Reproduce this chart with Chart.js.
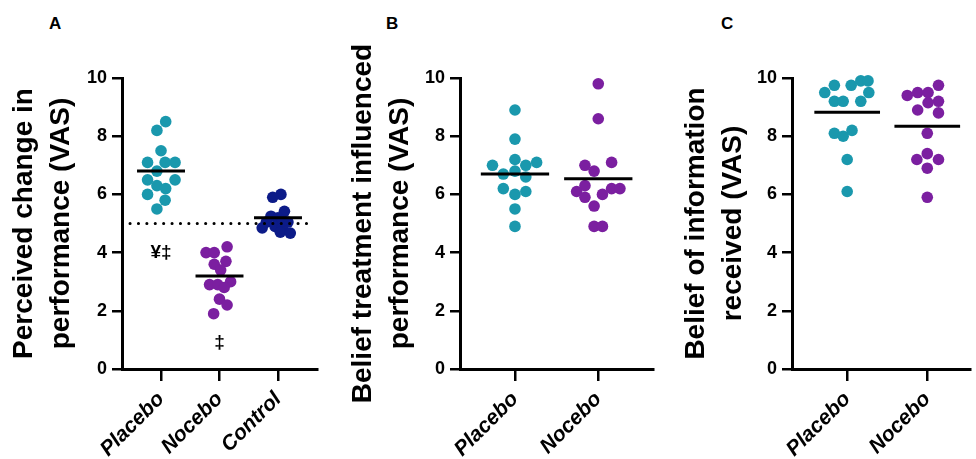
<!DOCTYPE html>
<html>
<head>
<meta charset="utf-8">
<script src="https://cdn.jsdelivr.net/npm/chart.js@4.4.0/dist/chart.umd.min.js"></script>
<style>
  html, body { margin: 0; padding: 0; background: #fff; }
  body { width: 976px; height: 459px; position: relative; overflow: hidden; font-family: 'Liberation Sans', Arial, sans-serif; }
  .panel { position: absolute; top: 0; height: 459px; }
  .tag { position: absolute; top: 14px; font-weight: bold; font-size: 17px; color: #000; }
</style>
</head>
<body>
<div class="tag" style="left:49px">A</div>
<div class="tag" style="left:386px">B</div>
<div class="tag" style="left:721px">C</div>
<div class="panel" style="left:0px;width:330px"><canvas id="chartA" width="330" height="459"></canvas></div>
<div class="panel" style="left:340px;width:325px"><canvas id="chartB" width="325" height="459"></canvas></div>
<div class="panel" style="left:670px;width:306px"><canvas id="chartC" width="306" height="459"></canvas></div>
<script>
// colours
const teal = '#1a98ad';
const purple = '#7b1fa0';
const navy = '#0c1b88';

// ---- panel A: perceived change in performance ----
const aCategories = ['Placebo', 'Nocebo', 'Control'];
const aPlacebo = [8.5, 8.2, 7.5, 7.1, 7.1, 7.1, 6.8, 6.5, 6.5, 6.3, 6.2, 6.0, 5.8, 5.5];
const aPlaceboJitter = [0.08, -0.07, 0, -0.23, 0.07, 0.24, -0.07, -0.23, 0.24, -0.07, 0.08, -0.23, 0.07, -0.07];
const aNocebo = [4.2, 4.0, 4.0, 3.7, 3.6, 3.4, 2.9, 2.9, 3.0, 2.8, 2.4, 2.2, 1.9];
const aNoceboJitter = [0.13, -0.23, -0.09, 0.11, -0.09, 0.02, -0.17, -0.03, 0.19, 0.08, 0, 0.13, -0.1];
const aControl = [6.0, 5.9, 5.42, 5.25, 5.2, 5.05, 5.05, 4.9, 4.85, 4.9, 4.7, 4.67, 5.1];
const aControlJitter = [0.05, -0.09, 0.11, -0.12, 0, -0.2, 0.17, -0.05, -0.27, 0.08, 0.04, 0.21, 0.08];
const aMeans = [6.8, 3.2, 5.2];
const aRefLine = 5;
const aMarks = ['¥‡', '‡'];
const aMarkX = [1, 2];
const aMarkY = [4.0, 0.9];

// ---- panel B: belief treatment influenced performance ----
const bCategories = ['Placebo', 'Nocebo'];
const bPlacebo = [8.9, 7.9, 7.2, 7.0, 7.1, 7.0, 6.7, 6.8, 6.6, 6.2, 6.0, 6.1, 5.5, 4.9];
const bPlaceboJitter = [0, 0, 0, -0.27, 0.26, 0.13, -0.14, 0, 0.13, -0.14, 0, 0.13, 0, 0];
const bNocebo = [9.8, 8.6, 7.1, 7.0, 6.8, 6.3, 6.1, 5.9, 6.0, 6.2, 6.2, 5.6, 4.9, 4.9];
const bNoceboJitter = [0, 0, 0.16, -0.16, -0.05, -0.16, -0.26, -0.16, 0.05, 0.16, 0.26, -0.05, -0.05, 0.05];
const bMeans = [6.7, 6.54];

// ---- panel C: belief of information received ----
const cCategories = ['Placebo', 'Nocebo'];
const cPlacebo = [9.5, 9.75, 9.2, 9.2, 9.75, 9.9, 9.9, 9.5, 9.2, 8.1, 8.0, 8.2, 7.2, 6.1];
const cPlaceboJitter = [-0.28, -0.16, -0.16, -0.05, 0.05, 0.17, 0.26, 0.27, 0.17, -0.16, -0.05, 0.06, 0, 0];
const cNocebo = [9.4, 9.5, 9.5, 9.75, 9.2, 9.15, 8.9, 8.8, 8.1, 7.2, 7.4, 7.2, 6.9, 5.9];
const cNoceboJitter = [-0.25, -0.12, 0.01, 0.14, 0.14, 0.01, -0.12, 0.14, 0, -0.13, 0, 0.14, 0, 0];
const cMeans = [8.82, 8.34];

const yTicks = [0, 2, 4, 6, 8, 10];

Chart.defaults.font.family = "'Liberation Sans', Arial, sans-serif";
Chart.defaults.color = '#000';

function dots(values, jitter, pos, color){
  return {
    type: 'scatter', order: 1, clip: false,
    data: values.map((v, i) => ({ x: pos + jitter[i], y: v })),
    backgroundColor: color, borderWidth: 0, pointRadius: 5.8
  };
}
function meanLine(pos, m){
  return {
    type: 'line', order: 0, showLine: true,
    data: [{ x: pos - 0.41, y: m }, { x: pos + 0.41, y: m }],
    borderColor: '#000', borderWidth: 3, pointRadius: 0
  };
}

// draws the significance marks as text
const marksPlugin = {
  id: 'marks',
  afterDatasetsDraw(chart, args, opts){
    if(!opts.text) return;
    const ctx = chart.ctx;
    ctx.save();
    ctx.font = 'bold 19px "Liberation Sans", Arial, sans-serif';
    ctx.fillStyle = '#000'; ctx.textAlign = 'center'; ctx.textBaseline = 'middle';
    opts.text.forEach((t, i) => {
      ctx.fillText(t, chart.scales.x.getPixelForValue(opts.x[i]), chart.scales.y.getPixelForValue(opts.y[i]));
    });
    ctx.restore();
  }
};

function makePanel(id, p){
  const datasets = [];
  p.groups.forEach((g, i) => {
    datasets.push(dots(g.values, g.jitter, i + 1, g.color));
    datasets.push(meanLine(i + 1, p.means[i]));
  });
  if(p.extra) p.extra.forEach(d => datasets.push(d));
  return new Chart(document.getElementById(id), {
    type: 'scatter',
    data: { datasets },
    plugins: [marksPlugin],
    options: {
      responsive: false, animation: false, events: [],
      layout: { padding: { top: 78, right: p.padRight, left: 0, bottom: 0 } },
      plugins: { legend: { display: false }, tooltip: { enabled: false }, marks: p.marks || {} },
      scales: {
        x: {
          type: 'linear', min: p.xMin, max: p.xMax,
          afterBuildTicks: s => { s.ticks = p.categories.map((c, i) => ({ value: i + 1 })); },
          afterFit: s => { s.height = 90; },
          ticks: {
            callback: v => p.categories[Math.round(v) - 1],
            font: { size: 21, weight: 'bold', style: 'italic' },
            maxRotation: 45, minRotation: 45, autoSkip: false, padding: 6, color: '#000'
          },
          grid: { display: true, drawOnChartArea: false, drawTicks: true, tickLength: 12, color: '#000', lineWidth: 2.5 },
          border: { display: true, color: '#000', width: 3 }
        },
        y: {
          min: 0, max: 10,
          afterBuildTicks: s => { s.ticks = yTicks.map(v => ({ value: v })); },
          afterFit: s => { s.width = p.yWidth; },
          ticks: { font: { size: 18, weight: 'bold' }, padding: 5, color: '#000' },
          grid: { display: true, drawOnChartArea: false, drawTicks: true, tickLength: 10, color: '#000', lineWidth: 2.5 },
          border: { display: true, color: '#000', width: 3 },
          title: {
            display: true, text: p.title, color: '#000',
            font: { size: 28, weight: 'bold', lineHeight: 1.35 },
            padding: { top: p.titlePad, bottom: 0 }
          }
        }
      }
    }
  });
}

makePanel('chartA', {
  categories: aCategories,
  groups: [
    { values: aPlacebo, jitter: aPlaceboJitter, color: teal },
    { values: aNocebo, jitter: aNoceboJitter, color: purple },
    { values: aControl, jitter: aControlJitter, color: navy }
  ],
  means: aMeans,
  extra: [{
    type: 'line', order: 0, showLine: true,
    data: [{ x: 0.47, y: aRefLine }, { x: 3.54, y: aRefLine }],
    borderColor: '#000', borderWidth: 3, borderDash: [0.1, 8.3], borderCapStyle: 'round', pointRadius: 0
  }],
  marks: { text: aMarks, x: aMarkX, y: aMarkY },
  xMin: 0.333, xMax: 3.667, yWidth: 122, padRight: 13, titlePad: 5,
  title: ['Perceived change in', 'performance (VAS)']
});

makePanel('chartB', {
  categories: bCategories,
  groups: [
    { values: bPlacebo, jitter: bPlaceboJitter, color: teal },
    { values: bNocebo, jitter: bNoceboJitter, color: purple }
  ],
  means: bMeans,
  xMin: 0.34, xMax: 2.657, yWidth: 120, padRight: 12, titlePad: 4,
  title: ['Belief treatment influenced', 'performance (VAS)']
});

makePanel('chartC', {
  categories: cCategories,
  groups: [
    { values: cPlacebo, jitter: cPlaceboJitter, color: teal },
    { values: cNocebo, jitter: cNoceboJitter, color: purple }
  ],
  means: cMeans,
  xMin: 0.311, xMax: 2.536, yWidth: 122, padRight: 0, titlePad: 7,
  title: ['Belief of information', 'received (VAS)']
});
</script>
</body>
</html>
